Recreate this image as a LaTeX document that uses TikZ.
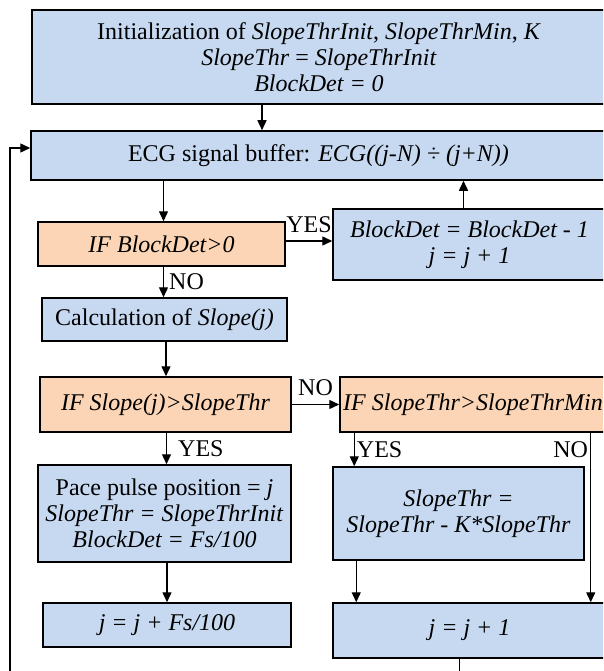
\documentclass[tikz,border=0pt]{standalone}
\usepackage{fontspec}
\setmainfont{Liberation Serif}
\usepackage{tikz}
\usetikzlibrary{arrows.meta, positioning, calc}
\definecolor{procblue}{RGB}{198,217,241}
\definecolor{testorange}{RGB}{251,213,181}

\begin{document}
\begin{tikzpicture}[x=1pt, y=-1pt,
		every node/.style={font=\fontsize{24}{26}\selectfont},
		proc/.style={draw, line width=1.5pt, fill=procblue, align=center, inner sep=2pt},
		test/.style={proc, fill=testorange},
		arr/.style={line width=1.4pt, -{Triangle[length=10pt, width=9pt]}},
		lbl/.style={inner sep=1pt}]
			\useasboundingbox (0,0) rectangle (603,671);
			\clip (0,0) rectangle (603,671);
			\fill[white] (0,0) rectangle (603,671);
			\node[proc, minimum width=574, minimum height=94] (init) at (319,57) {Initialization of \textit{SlopeThrInit}, \textit{SlopeThrMin}, \textit{K}\\ \textit{SlopeThr} = \textit{SlopeThrInit}\\ \textit{BlockDet = 0}};
			\node[proc, minimum width=575, minimum height=49] (ecg) at (318.5,155.5) {ECG signal buffer: \textit{ECG((j-N) ÷ (j+N))}};
			\node[test, minimum width=247, minimum height=44] (ifblock) at (161.5,244) {\textit{IF BlockDet>0}};
			\node[proc, minimum width=273, minimum height=71] (blockdec) at (469.5,244.5) {\textit{BlockDet = BlockDet - 1}\\ \textit{j = j + 1}};
			\node[proc, minimum width=245, minimum height=43] (calc) at (164.5,319.5) {Calculation of \textit{Slope(j)}};
			\node[test, minimum width=251, minimum height=55] (ifslope) at (165.5,404.5) {\textit{IF Slope(j)>SlopeThr}};
			\node[test, minimum width=266, minimum height=55] (ifthr) at (473,404.5) {\textit{IF SlopeThr>SlopeThrMin}};
			\node[proc, minimum width=253, minimum height=97] (pace) at (164.5,513.5) {Pace pulse position = \textit{j}\\ \textit{SlopeThr = SlopeThrInit}\\ \textit{BlockDet = Fs/100}};
			\node[proc, minimum width=251, minimum height=93] (thrdec) at (458.5,513.5) {\textit{SlopeThr =}\\ \textit{SlopeThr - K*SlopeThr}};
			\node[proc, minimum width=248, minimum height=44] (jfs) at (167,625) {\textit{j = j + Fs/100}};
			\node[proc, minimum width=273, minimum height=55] (jinc) at (469.5,630.5) {\textit{j = j + 1}};
			\coordinate (loop) at (10,700);
			\draw[arr] ([xshift=-57pt]init.south) -- ([xshift=-57pt]init.south |- ecg.north);
			\draw[arr] ([xshift=2pt]ifblock.north |- ecg.south) -- ([xshift=2pt]ifblock.north);
			\draw[arr] ([yshift=3pt]ifblock.east) -- ([yshift=3pt]ifblock.east -| blockdec.west) node[lbl, midway, above=7pt] {YES};
			\draw[arr] ([xshift=-6pt]blockdec.north) -- ([xshift=-6pt]blockdec.north |- ecg.south);
			\draw[arr] ([xshift=2pt]ifblock.south) -- ([xshift=2pt]ifblock.south |- calc.north) node[lbl, midway, right=4pt] {NO};
			\draw[arr] ([xshift=1.5pt]calc.south) -- ([xshift=1.5pt]calc.south |- ifslope.north);
			\draw[arr] (ifslope.east) -- (ifthr.west) node[lbl, midway, above=7pt] {NO};
			\draw[arr] ([xshift=1pt]ifslope.south) -- ([xshift=1pt]ifslope.south |- pace.north) node[lbl, midway, right=10pt] {YES};
			\draw[arr] ([xshift=2.5pt]pace.south) -- ([xshift=2.5pt]pace.south |- jfs.north);
			\draw[arr] ([xshift=15pt]ifthr.south west) -- ([xshift=15pt]ifthr.south west |- thrdec.north) node[lbl, midway, right=1pt] {YES};
			\draw[arr] ([xshift=-16pt]ifthr.south east) -- ([xshift=-16pt]ifthr.south east |- jinc.north) node[lbl, pos=0.1, left=1pt] {NO};
			\draw[arr] ([xshift=24pt]thrdec.south west) -- ([xshift=24pt]thrdec.south west |- jinc.north);
			\draw[line width=1.4pt] ([xshift=-10pt]jinc.south) -- ([xshift=-10pt]jinc.south |- loop) -- (loop);
			\draw[arr] (loop) |- ([yshift=7.5pt]ecg.west);
		\end{tikzpicture}
\end{document}
